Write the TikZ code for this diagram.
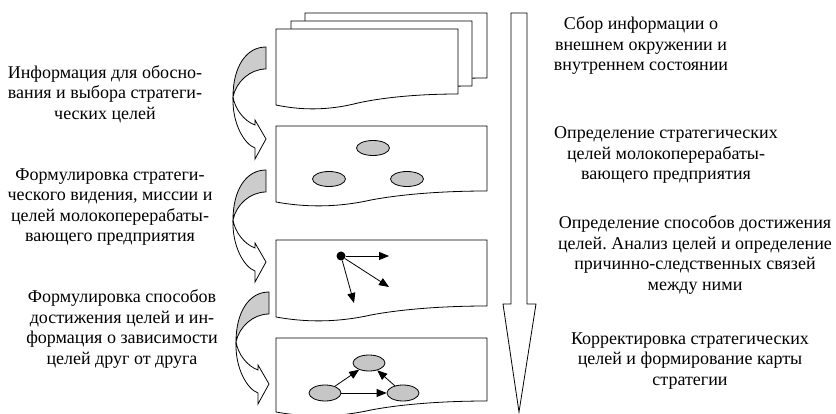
\documentclass[tikz,border=0pt]{standalone}
\usepackage{fontspec}
\setmainfont{Liberation Serif}
\usetikzlibrary{arrows.meta,shapes.geometric}
\frenchspacing

\tikzset{
  page/.style={draw, fill=white, line width=0.8pt},
  goal/.style={ellipse, draw, fill=gray!45, minimum width=33pt, minimum height=15pt, inner sep=0pt, line width=0.8pt},
  link/.style={line width=0.8pt, -{Triangle[length=10pt,width=8pt]}},
  note/.style={align=center, font=\fontsize{18}{20.5}\selectfont, inner sep=0pt},
}

\begin{document}
\begin{tikzpicture}[x=1pt,y=-1pt]
    \useasboundingbox (0,0) rectangle (836,414);

    \draw[line width=0.8pt] (511,13) -- (527,13) -- (527,304) -- (536,304) -- (519,412) -- (503,304) -- (511,304) -- cycle;

    \foreach \lx/\ty/\rx/\by in {305/13/487/89, 291/21/472/97, 276/29/458/105, 276/126/487/202, 276/240/487/317, 276/338/487/412}
      \draw[page] (\lx,\by) .. controls ({\lx+0.13*(\rx-\lx)},\by+5) and ({\lx+0.28*(\rx-\lx)},\by+6) .. ({\lx+0.45*(\rx-\lx)},\by-2) .. controls ({\lx+0.6*(\rx-\lx)},\by-8) and ({\lx+0.8*(\rx-\lx)},\by-11) .. (\rx,\by-11) -- (\rx,\ty) -- (\lx,\ty) -- cycle;

    \foreach \x/\y in {266/47, 266/170, 269/292} {
      \begin{scope}[shift={(\x,\y)}]
        \draw[page] (-33,50) .. controls (-34,76) and (-22,97) .. (-11,101) -- (-11,112) -- (0,92) -- (-11,73) -- (-11,78) .. controls (-22,74) and (-31,62) .. (-33,50);
        \draw[line width=0.8pt, fill=gray!40] (0,0) .. controls (-20,0) and (-33,20) .. (-33,50) .. controls (-30,35) and (-16,22) .. (0,22) -- cycle;
      \end{scope}
    }

    \node[goal] (g1) at (373,148) {};
    \node[goal] (g2) at (329,179) {};
    \node[goal] (g3) at (407,179) {};

    \node[circle, fill, inner sep=0pt, minimum size=9pt] (src) at (341,256) {};
    \coordinate (t1) at (389,256);
    \coordinate (t2) at (389,287);
    \coordinate (t3) at (354,303);
    \draw[link] (src) -- (t1);
    \draw[link] (src) -- (t2);
    \draw[link] (src) -- (t3);

    \node[goal, minimum width=32pt, minimum height=16pt] (m1) at (369,363) {};
    \node[goal, minimum width=32pt, minimum height=16pt] (m2) at (325,393) {};
    \node[goal, minimum width=32pt, minimum height=16pt] (m3) at (403,393) {};
    \draw[link] (m2) -- (m1);
    \draw[link] (m2) -- (m3);
    \draw[link] (m3) -- (m1);

    \node[note] (info) at (105,94) {Информация для обосно-\\вания и выбора стратеги-\\ческих целей};
    \node[note] (vision) at (110,207) {Формулировка стратеги-\\ческого видения, миссии и\\целей молокоперерабаты-\\вающего предприятия};
    \node[note] (ways) at (122,329) {Формулировка способов\\достижения целей и ин-\\формация о зависимости\\целей друг от друга};
    \node[note] (collect) at (641,46) {Сбор информации о\\внешнем окружении и\\внутреннем состоянии};
    \node[note] (define) at (666,155) {Определение стратегических\\целей молокоперерабаты-\\вающего предприятия};
    \node[note] (analyse) at (695,255) {Определение способов достижения\\целей. Анализ целей и определение\\причинно-следственных связей\\между ними};
    \node[note] (adjust) at (690,361) {Корректировка стратегических\\целей и формирование карты\\стратегии};
\end{tikzpicture}
\end{document}
